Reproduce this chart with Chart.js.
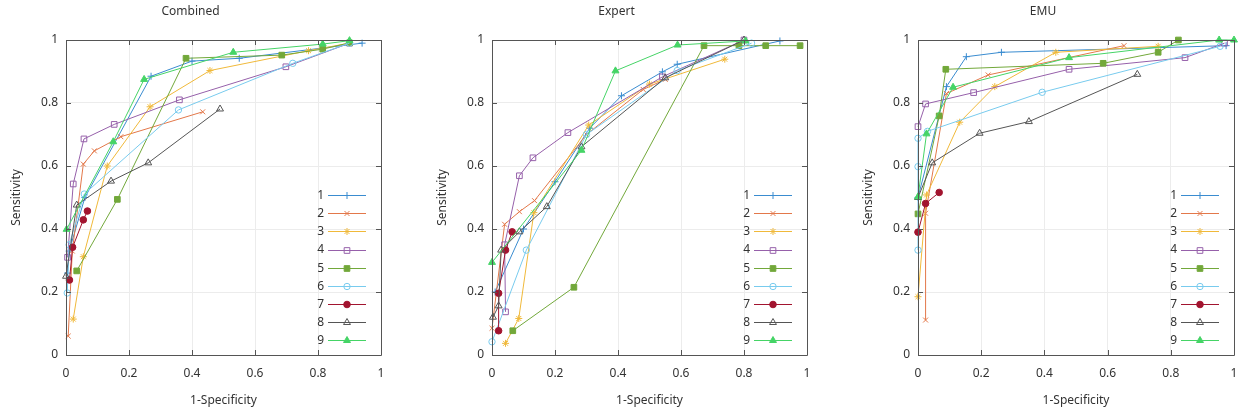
<!DOCTYPE html>
<html><head><meta charset="utf-8">
<script src="https://cdn.jsdelivr.net/npm/chart.js@4.4.0/dist/chart.umd.min.js"></script>
<style>
html,body{margin:0;padding:0;background:#fff;width:1256px;height:420px;overflow:hidden;}
canvas{position:absolute;top:0;}
</style></head><body>
<canvas id="c0"></canvas><canvas id="c1"></canvas><canvas id="c2"></canvas>
<script>
// ---- data ----
const panelTitles = ['Combined', 'Expert', 'EMU'];
const seriesLabels = ['1','2','3','4','5','6','7','8','9'];
const tickValues = [0, 0.2, 0.4, 0.6, 0.8, 1];
const tickLabels = ['0', '0.2', '0.4', '0.6', '0.8', '1'];
const xTitle = '1-Specificity';
const yTitle = 'Sensitivity';

// Combined
const comb1 = [[0.005,0.26],[0.01,0.33],[0.06,0.5],[0.27,0.885],[0.40,0.933],[0.55,0.942],[0.94,0.99]];
const comb2 = [[0.007,0.06],[0.02,0.33],[0.055,0.606],[0.09,0.648],[0.174,0.693],[0.434,0.772]];
const comb3 = [[0.023,0.114],[0.055,0.312],[0.131,0.6],[0.267,0.788],[0.457,0.903],[0.77,0.966],[0.9,0.99]];
const comb4 = [[0.005,0.31],[0.023,0.543],[0.057,0.686],[0.153,0.732],[0.36,0.81],[0.698,0.915],[0.9,0.99]];
const comb5 = [[0.034,0.267],[0.163,0.494],[0.381,0.942],[0.685,0.952],[0.815,0.971],[0.9,0.991]];
const comb6 = [[0.004,0.197],[0.01,0.35],[0.058,0.511],[0.357,0.778],[0.72,0.926],[0.9,0.99]];
const comb7 = [[0.011,0.238],[0.021,0.342],[0.055,0.429],[0.068,0.457]];
const comb8 = [[0,0.25],[0.034,0.476],[0.143,0.552],[0.261,0.61],[0.489,0.781]];
const comb9 = [[0.002,0.399],[0.15,0.677],[0.248,0.875],[0.531,0.961],[0.815,0.987],[0.9,0.998]];

// Expert
const exp1 = [[0.01,0.2],[0.1,0.4],[0.2,0.55],[0.31,0.72],[0.411,0.823],[0.541,0.899],[0.588,0.923],[0.914,0.997]];
const exp2 = [[0,0.085],[0.04,0.415],[0.087,0.455],[0.135,0.49],[0.3,0.7],[0.48,0.843],[0.55,0.875]];
const exp3 = [[0.043,0.037],[0.085,0.116],[0.133,0.452],[0.307,0.73],[0.5,0.86],[0.739,0.939]];
const exp4 = [[0.043,0.137],[0.04,0.35],[0.087,0.569],[0.13,0.626],[0.241,0.706],[0.541,0.883],[0.8,1.0]];
const exp5 = [[0.066,0.077],[0.26,0.215],[0.673,0.982],[0.784,0.982],[0.869,0.982],[0.978,0.982]];
const exp6 = [[0,0.042],[0.109,0.333],[0.3,0.7],[0.588,0.903],[0.824,0.99]];
const exp7 = [[0.021,0.077],[0.021,0.196],[0.043,0.333],[0.064,0.391]];
const exp8 = [[0.003,0.12],[0.021,0.156],[0.029,0.333],[0.087,0.391],[0.174,0.471],[0.284,0.661],[0.55,0.88],[0.8,1.0]];
const exp9 = [[0,0.294],[0.284,0.65],[0.392,0.902],[0.589,0.984],[0.805,0.997]];

// EMU
const emu1 = [[0,0.5],[0.09,0.852],[0.153,0.947],[0.264,0.961],[0.975,0.982]];
const emu2 = [[0.024,0.111],[0.024,0.45],[0.09,0.83],[0.222,0.889],[0.652,0.982]];
const emu3 = [[0,0.185],[0.027,0.508],[0.132,0.739],[0.243,0.852],[0.436,0.961],[0.76,0.98]];
const emu4 = [[0,0.725],[0.024,0.797],[0.176,0.833],[0.478,0.907],[0.845,0.944],[0.97,0.99]];
const emu5 = [[0,0.448],[0.067,0.759],[0.088,0.907],[0.586,0.926],[0.76,0.961],[0.824,1.0]];
const emu6 = [[0,0.333],[0,0.598],[0,0.688],[0.03,0.71],[0.393,0.834],[0.956,0.98]];
const emu7 = [[0,0.39],[0.024,0.481],[0.067,0.516]];
const emu8 = [[0,0.5],[0.045,0.61],[0.195,0.704],[0.351,0.741],[0.694,0.891]];
const emu9 = [[0,0.502],[0.027,0.702],[0.111,0.85],[0.478,0.944],[0.953,1.0],[1.0,1.0]];

const panelSeries = [
  [comb1,comb2,comb3,comb4,comb5,comb6,comb7,comb8,comb9],
  [exp1,exp2,exp3,exp4,exp5,exp6,exp7,exp8,exp9],
  [emu1,emu2,emu3,emu4,emu5,emu6,emu7,emu8,emu9]
];

// ---- styles ----
const colors = ['#3a8cd0','#e3784a','#f0b93a','#9660aa','#72a83a','#78cbee','#a2142f','#555555','#45d466'];
const styles = [
  {pointStyle:'cross', radius:3.5, fill:false},
  {pointStyle:'crossRot', radius:3.5, fill:false},
  {pointStyle:'star', radius:3.5, fill:false},
  {pointStyle:'rect', radius:4, fill:false},
  {pointStyle:'rect', radius:4, fill:true},
  {pointStyle:'circle', radius:3.2, fill:false},
  {pointStyle:'circle', radius:3.3, fill:true},
  {pointStyle:'triangle', radius:4, fill:false},
  {pointStyle:'triangle', radius:4, fill:true}
];
// plot area geometry (pixels on page)
const plotBoxes = [[66,381],[492,807],[918,1234]];
const PLOT_TOP = 40, PLOT_BOTTOM = 355, YAXIS_W = 66, H = 420;
const FONT = "'Noto Sans', 'Open Sans', sans-serif";

const framePlugin = {
  id: 'frame',
  afterDraw(chart) {
    const ctx = chart.ctx, a = chart.chartArea;
    const xs = chart.scales.x, ys = chart.scales.y;
    ctx.save();
    ctx.strokeStyle = '#555';
    ctx.lineWidth = 1;
    ctx.beginPath();
    ctx.rect(Math.round(a.left)+0.5, Math.round(a.top)+0.5, Math.round(a.right-a.left), Math.round(a.bottom-a.top));
    ctx.stroke();
    ctx.beginPath();
    const tl = 5;
    xs.ticks.forEach(t => {
      const px = Math.round(xs.getPixelForValue(t.value)) + 0.5;
      ctx.moveTo(px, a.bottom); ctx.lineTo(px, a.bottom - tl);
      ctx.moveTo(px, a.top); ctx.lineTo(px, a.top + tl);
    });
    ys.ticks.forEach(t => {
      const py = Math.round(ys.getPixelForValue(t.value)) + 0.5;
      ctx.moveTo(a.left, py); ctx.lineTo(a.left + tl, py);
      ctx.moveTo(a.right, py); ctx.lineTo(a.right - tl, py);
    });
    ctx.stroke();
    // legend inside plot, bottom-right
    const rowH = 18.1;
    const n = chart.data.datasets.length;
    ctx.font = '12px ' + FONT;
    ctx.textAlign = 'right';
    ctx.textBaseline = 'middle';
    chart.data.datasets.forEach((ds, i) => {
      const y = a.bottom - 15 - (n - 1 - i) * rowH;
      ctx.fillStyle = '#333';
      ctx.fillText(ds.label, a.right - 57, y + 0.5);
      ctx.strokeStyle = ds.borderColor;
      ctx.lineWidth = 1;
      ctx.beginPath();
      ctx.moveTo(a.right - 53, Math.round(y) + 0.5);
      ctx.lineTo(a.right - 15, Math.round(y) + 0.5);
      ctx.stroke();
      ctx.fillStyle = ds.pointBackgroundColor;
      ctx.strokeStyle = ds.pointBorderColor;
      Chart.helpers.drawPoint(ctx, {pointStyle: ds.pointStyle, radius: ds.pointRadius, rotation: 0, borderWidth: 1}, a.right - 34, Math.round(y) + 0.5);
    });
    ctx.restore();
  }
};

panelTitles.forEach((title, p) => {
  const [pl, pr] = plotBoxes[p];
  const w = pr - pl;
  const canvas = document.getElementById('c' + p);
  const cw = YAXIS_W + w + YAXIS_W;
  canvas.width = cw; canvas.height = H;
  canvas.style.left = (pl - YAXIS_W) + 'px';
  canvas.style.width = cw + 'px'; canvas.style.height = H + 'px';

  const datasets = panelSeries[p].map((pts, i) => ({
    label: seriesLabels[i],
    data: pts.map(([x, y]) => ({x, y})),
    showLine: true,
    tension: 0,
    borderColor: colors[i],
    borderWidth: 1,
    pointStyle: styles[i].pointStyle,
    pointRadius: styles[i].radius,
    pointBorderWidth: 1,
    pointBorderColor: colors[i],
    pointBackgroundColor: styles[i].fill ? colors[i] : 'rgba(255,255,255,0)',
    order: 9 - i,
    clip: false
  }));

  const axisCommon = {
    type: 'linear', min: 0, max: 1,
    grid: {color: '#ececec', lineWidth: 1, drawTicks: false},
    border: {display: false},
    afterBuildTicks: s => { s.ticks = tickValues.map(v => ({value: v})); },
  };

  new Chart(canvas, {
    type: 'scatter',
    data: {datasets},
    options: {
      responsive: false,
      animation: false,
      devicePixelRatio: 1,
      layout: {padding: {left: 0, right: YAXIS_W, top: 0, bottom: 0}},
      plugins: {
        legend: {display: false},
        tooltip: {enabled: false},
        title: {display: true, text: title, color: '#333', font: {family: FONT, size: 12, weight: 'normal'}, padding: {top: 4, bottom: 21.6}}
      },
      scales: {
        x: Object.assign({}, axisCommon, {
          position: 'bottom',
          ticks: {color: '#333', font: {family: FONT, size: 12}, padding: 11, maxRotation: 0,
                  callback: (v, idx) => tickLabels[idx]},
          title: {display: true, text: xTitle, color: '#333', font: {family: FONT, size: 12}, padding: {top: 0, bottom: 12}},
          afterFit: s => { s.height = H - PLOT_BOTTOM; }
        }),
        y: Object.assign({}, axisCommon, {
          position: 'left',
          ticks: {color: '#333', font: {family: FONT, size: 12}, padding: 8,
                  callback: (v, idx) => tickLabels[idx]},
          title: {display: true, text: yTitle, color: '#333', font: {family: FONT, size: 12}, padding: {top: 9, bottom: 0}},
          afterFit: s => { s.width = YAXIS_W; }
        })
      }
    },
    plugins: [framePlugin]
  });
});
</script>
</body></html>
